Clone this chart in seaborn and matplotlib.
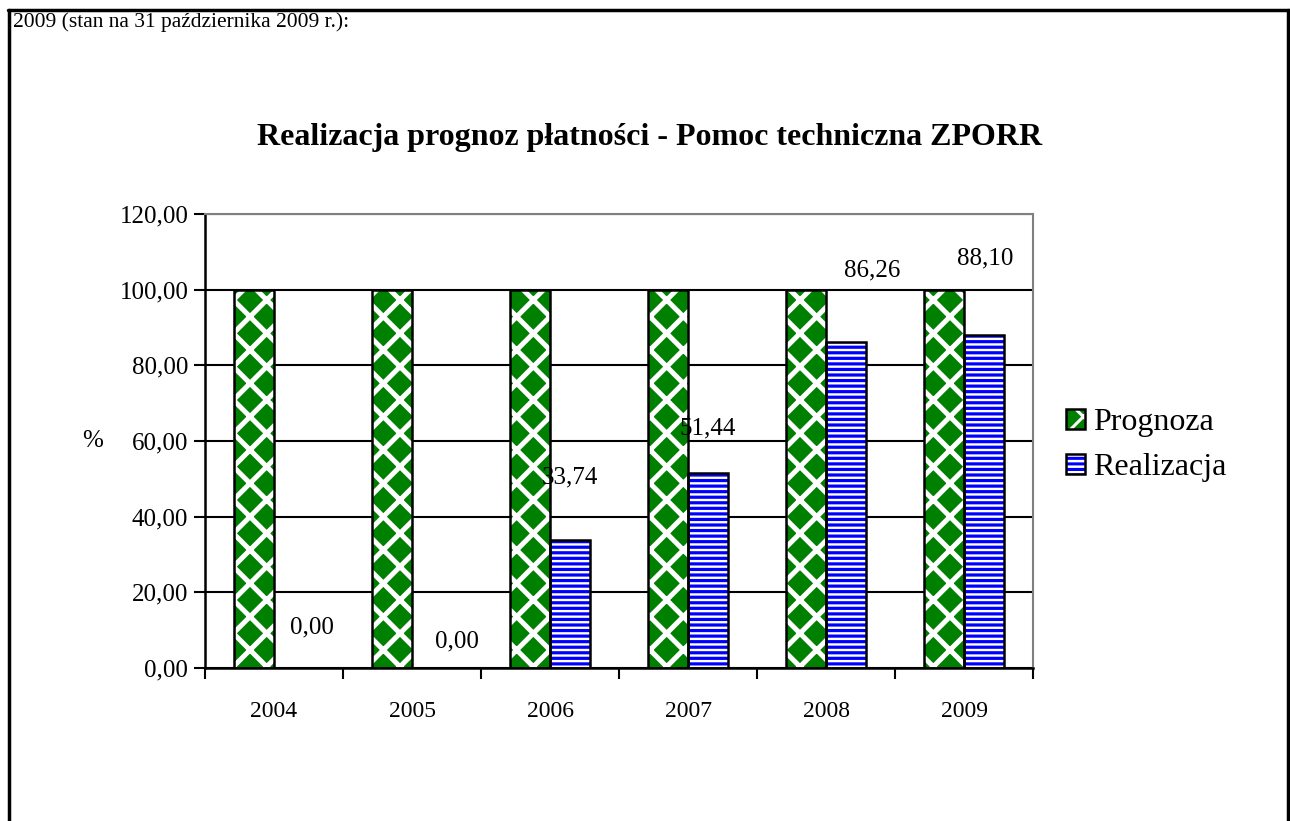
import matplotlib
matplotlib.use("Agg")
import matplotlib.pyplot as plt
import pandas as pd
import seaborn as sns
from matplotlib.patches import Patch, Rectangle
from matplotlib.lines import Line2D
from matplotlib.legend_handler import HandlerTuple
from matplotlib.ticker import FuncFormatter, MultipleLocator

# data
years = ["2004", "2005", "2006", "2007", "2008", "2009"]
series = ["Prognoza", "Realizacja"]
prognoza = [100.0, 100.0, 100.0, 100.0, 100.0, 100.0]
realizacja = [0.00, 0.00, 33.74, 51.44, 86.26, 88.10]

# labels were moved by hand in the original, shift in pixels from bar top
label_shift = [(18, 41), (25, 27), (0, 63), (0, 45), (26, 71), (1, 76)]

W, H = 1290, 821

sns.set_theme(style="white")
plt.rcParams["font.family"] = ["Liberation Serif", "DejaVu Serif"]
plt.rcParams["text.color"] = "black"
plt.rcParams["xtick.color"] = "black"
plt.rcParams["ytick.color"] = "black"
plt.rcParams["hatch.linewidth"] = 2.2

df = pd.DataFrame({
    "year": years * 2,
    "series": [series[0]] * len(years) + [series[1]] * len(years),
    "value": prognoza + realizacja,
})

fig = plt.figure(figsize=(W / 100, H / 100), dpi=100)
ax = fig.add_axes([205 / W, 153 / H, 828 / W, 454 / H])

sns.barplot(data=df, x="year", y="value", hue="series", hue_order=series,
            width=0.58, palette=["#008000", "white"], saturation=1,
            legend=False, ax=ax)

# pattern fills: hatch colour follows edgecolor, so outline is drawn separately
styles = [("#008000", "white", "x", 3.6), ("white", "#0000ff", "---", 2.3)]
for cont, (fc, hc, hatch, hlw) in zip(ax.containers, styles):
    for bar in cont:
        bar.set_facecolor(fc)
        bar.set_edgecolor(hc)
        bar.set_linewidth(0)
        bar.set_hatch(hatch)
        if hasattr(bar, "set_hatch_linewidth"):
            bar.set_hatch_linewidth(hlw)
        ax.add_patch(Rectangle(bar.get_xy(), bar.get_width(), bar.get_height(),
                               fill=False, edgecolor="black", linewidth=1.8,
                               zorder=bar.get_zorder() + 0.1))

# data labels for Realizacja
for bar, val, (dx, dy) in zip(ax.containers[1], realizacja, label_shift):
    ax.annotate(f"{val:.2f}".replace(".", ","),
                xy=(bar.get_x() + bar.get_width() / 2, val),
                xytext=(dx * 0.72, dy * 0.72), textcoords="offset points",
                ha="center", va="center", fontsize=18, color="black")

ax.set_ylim(0, 120)
ax.yaxis.set_major_locator(MultipleLocator(20))
ax.yaxis.set_major_formatter(FuncFormatter(lambda v, p: f"{v:.2f}".replace(".", ",")))
ax.yaxis.grid(True, color="black", linewidth=1.5)
ax.set_axisbelow(True)
ax.set_xlabel("")
ax.set_ylabel("")

ax.set_xticks([i - 0.5 for i in range(len(years) + 1)], minor=True)
ax.tick_params(axis="x", which="major", length=0, labelsize=17, pad=24)
ax.tick_params(axis="x", which="minor", bottom=True, direction="out", length=8, width=1.5)
ax.tick_params(axis="y", left=True, direction="out", length=8, width=1.5,
               labelsize=18, pad=4)

for side in ["left", "bottom"]:
    ax.spines[side].set_color("black")
    ax.spines[side].set_linewidth(1.8)
for side in ["top", "right"]:
    ax.spines[side].set_visible(True)
    ax.spines[side].set_color("#808080")
    ax.spines[side].set_linewidth(1.5)

# legend with outlined pattern swatches
handles = [
    (Patch(facecolor="#008000", edgecolor="white", hatch="x", linewidth=0),
     Patch(facecolor="none", edgecolor="black", linewidth=1.8)),
    (Patch(facecolor="white", edgecolor="#0000ff", hatch="---", linewidth=0),
     Patch(facecolor="none", edgecolor="black", linewidth=1.8)),
]
fig.legend(handles, series, handler_map={tuple: HandlerTuple(ndivide=1)},
           loc="center left", bbox_to_anchor=(1066 / W, 1 - 445 / H),
           frameon=False, fontsize=23, handlelength=0.6, handleheight=0.6,
           handletextpad=0.25, labelspacing=0.5, borderpad=0, borderaxespad=0)

fig.text(650 / W, 1 - 137 / H, "Realizacja prognoz płatności - Pomoc techniczna ZPORR",
         ha="center", va="center", fontsize=23, fontweight="bold")
fig.text(13 / W, 1 - 22 / H, "2009 (stan na 31 października 2009 r.):",
         ha="left", va="center", fontsize=15.5)
fig.text(93 / W, 1 - 441 / H, "%", ha="center", va="center", fontsize=18)

# page border around the block
fig.add_artist(Line2D([8 / W, 1], [1 - 10 / H, 1 - 10 / H], color="black", linewidth=2.5))
fig.add_artist(Line2D([9 / W, 9 / W], [0, 1 - 10 / H], color="black", linewidth=2.5))
fig.add_artist(Line2D([1288 / W, 1288 / W], [0, 1 - 10 / H], color="black", linewidth=2.5))

fig.savefig("out.png", dpi=100)
